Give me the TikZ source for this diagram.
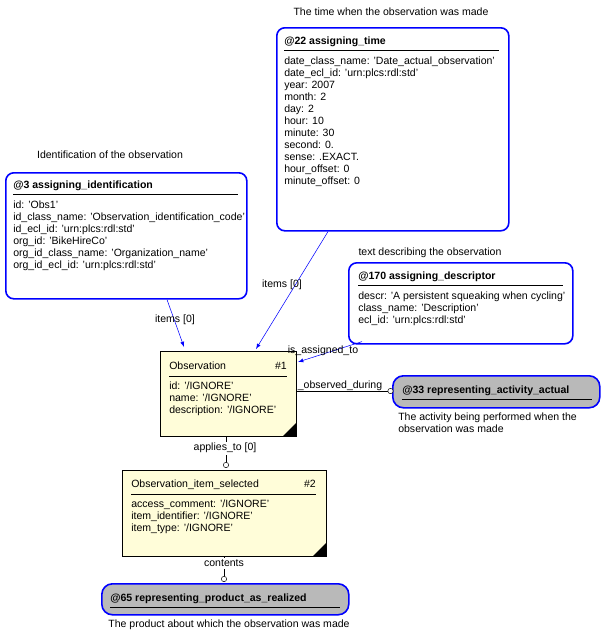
\documentclass[tikz,border=0pt]{standalone}
\usepackage{fontspec}
\setmainfont{Liberation Sans}
\usetikzlibrary{positioning}
\newcommand{\diafont}{\fontsize{7.9}{9}\selectfont}
\tikzset{
  inst/.style={draw=blue, line width=1.2pt, rounded corners=6pt, anchor=north west, inner sep=0pt},
  ent/.style={draw=black, fill=yellow!15, anchor=north west, inner sep=0pt},
  ref/.style={draw=blue, line width=1.2pt, fill=gray!55, rounded corners=8pt, anchor=north west, inner sep=0pt},
  ttl/.style={anchor=north west, inner sep=0pt, font=\diafont\bfseries},
  att/.style={anchor=north west, inner sep=0pt, align=left},
  lbl/.style={inner sep=1pt},
  rel/.style={draw=blue, -latex},
}
\begin{document}
\begin{tikzpicture}[x=0.75pt, y=-0.75pt, font=\diafont]
\useasboundingbox (0,0) rectangle (604,639);
% assigning_time
\node[inst, minimum width=232*0.75pt, minimum height=203*0.75pt] (time) at (276,27) {};
\node[ttl] (timet) at (284,37) {@22 assigning\_time};
\draw (284,50) -- (499,50);
\node[att] at (284,57) {date\_class\_name: 'Date\_actual\_observation'\\date\_ecl\_id: 'urn:plcs:rdl:std'\\year: 2007\\month: 2\\day: 2\\hour: 10\\minute: 30\\second: 0.\\sense: .EXACT.\\hour\_offset: 0\\minute\_offset: 0};
\node[lbl] at (391,12) {The time when the observation was made};
% assigning_identification
\node[inst, minimum width=241*0.75pt, minimum height=126*0.75pt] (ident) at (5,172) {};
\node[ttl] at (13,181) {@3 assigning\_identification};
\draw (13,194) -- (238,194);
\node[att] at (13,201) {id: 'Obs1'\\id\_class\_name: 'Observation\_identification\_code'\\id\_ecl\_id: 'urn:plcs:rdl:std'\\org\_id: 'BikeHireCo'\\org\_id\_class\_name: 'Organization\_name'\\org\_id\_ecl\_id: 'urn:plcs:rdl:std'};
\node[lbl] at (110,155) {Identification of the observation};
% assigning_descriptor
\node[inst, minimum width=224*0.75pt, minimum height=81*0.75pt] (descr) at (348,262) {};
\node[ttl] at (358,272) {@170 assigning\_descriptor};
\draw (358,285) -- (563,285);
\node[att] at (358,292) {descr: 'A persistent squeaking when cycling'\\class\_name: 'Description'\\ecl\_id: 'urn:plcs:rdl:std'};
\node[lbl] at (430,253) {text describing the observation};
% Observation
\node[ent, minimum width=136*0.75pt, minimum height=85*0.75pt] (obs) at (160,351) {};
\node[anchor=north west, inner sep=0pt] at (169,362) {Observation};
\node[anchor=north east, inner sep=0pt] at (287,362) {\#1};
\draw (169,376) -- (287,376);
\node[att] at (169,382) {id: '/IGNORE'\\name: '/IGNORE'\\description: '/IGNORE'};
\fill (296,423) -- (296,436) -- (283,436) -- cycle;
% Observation_item_selected
\node[ent, minimum width=204*0.75pt, minimum height=86*0.75pt] (item) at (122,470) {};
\node[anchor=north west, inner sep=0pt] at (131,480) {Observation\_item\_selected};
\node[anchor=north east, inner sep=0pt] at (316,480) {\#2};
\draw (131,494) -- (316,494);
\node[att] at (131,500) {access\_comment: '/IGNORE'\\item\_identifier: '/IGNORE'\\item\_type: '/IGNORE'};
\fill (326,543) -- (326,556) -- (313,556) -- cycle;
% references
\node[ref, minimum width=207*0.75pt, minimum height=32*0.75pt] (act) at (392,375) {};
\node[ttl, anchor=west] at (402,391) {@33 representing\_activity\_actual};
\draw (402,399) -- (592,399);
\node[att] at (398,413) {The activity being performed when the\\observation was made};
\node[ref, minimum width=247*0.75pt, minimum height=31*0.75pt] (prod) at (101,583) {};
\node[ttl, anchor=west] at (110,599) {@65 representing\_product\_as\_realized};
\draw (110,607) -- (340,607);
\node[lbl] at (229,625) {The product about which the observation was made};
% connectors
\coordinate (a1) at (184,347);
\coordinate (a2) at (256,349);
\coordinate (a3) at (298,362);
\draw[rel] (ident.south west) ++(162,0) -- (a1);
\draw[rel] (time.south west) ++(52,0) -- (a2);
\draw[rel] (descr.south west) ++(14,-3) -- (a3);
\node[lbl] at (175,320) {items [0]};
\node[lbl] at (282,285) {items [0]};
\node[lbl] at (323,351) {is\_assigned\_to};
\draw (296,391) -- (389,391);
\draw[fill=white] (390.5,391) circle (2pt);
\node[lbl] at (340,386) {\_observed\_during};
\draw (226,436) -- (226,442) (226,455) -- (226,463);
\draw[fill=white] (226,465) circle (2pt);
\node[lbl] at (225,448) {applies\_to [0]};
\draw (224,556) -- (224,558) (224,569) -- (224,577);
\draw[fill=white] (224,579) circle (2pt);
\node[lbl] at (224,563) {contents};
\end{tikzpicture}
\end{document}
